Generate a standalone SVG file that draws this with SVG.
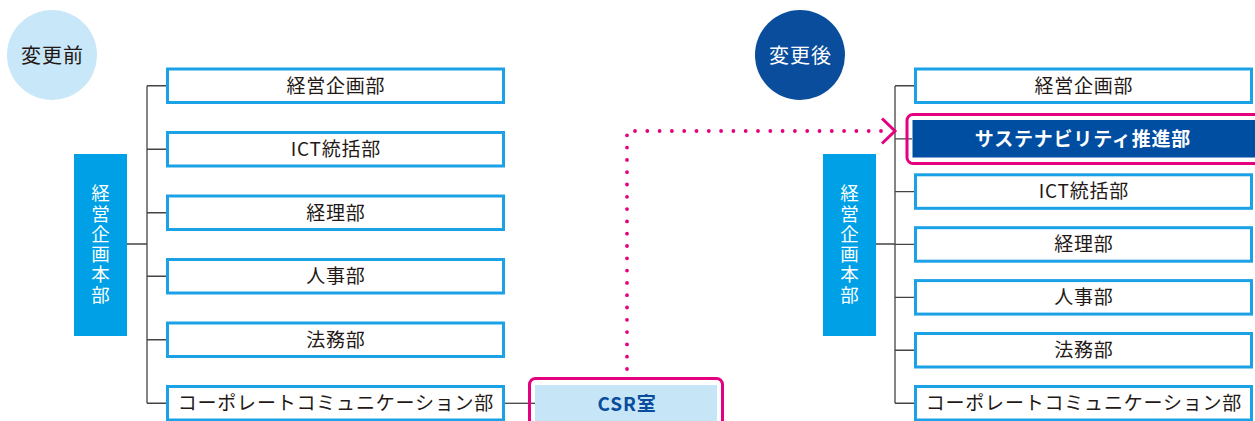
<svg xmlns="http://www.w3.org/2000/svg" width="1255" height="421" viewBox="0 0 1255 421">
<style>
.box{fill:#fff;stroke:#1ba1e6;stroke-width:3}
.lbl{font-family:"Noto Sans CJK JP","Noto Sans",sans-serif;font-size:19px;letter-spacing:0.8px;fill:#231815;text-anchor:middle}
.vt{font-family:"Noto Sans CJK JP","Noto Sans",sans-serif;font-size:18.5px;fill:#fff;writing-mode:vertical-rl;text-orientation:upright;letter-spacing:1.8px}
.ct{font-family:"Noto Sans CJK JP","Noto Sans",sans-serif;font-size:20px;letter-spacing:1px;text-anchor:middle}
.bold{font-weight:bold}
.conn{fill:none;stroke:#444;stroke-width:1.3}
.pink{fill:none;stroke:#e4007f;stroke-width:3}
.hq{fill:#00a0e6}
</style>
<g id="connectors">
  <path class="conn" d="M127,244H147M147,85.75V403.25M147,85.75H166M147,149.25H166M147,212.75H166M147,276.25H166M147,339.75H166M147,403.25H166"/>
  <path class="conn" d="M505,403.3H535"/>
  <path class="conn" d="M876,244H895M895,86V403.25M895,85.75H914M895,138.8H912M895,191.55H914M895,244.45H914M895,297.35H914M895,350.25H914M895,403.25H914"/>
  <path d="M627,369V131H890" fill="none" stroke="#e4007f" stroke-width="3.8" stroke-linecap="round" stroke-dasharray="0 12.3"/>
  <polyline points="882,118.5 895,131 882,143.5" fill="none" stroke="#e4007f" stroke-width="3"/>
</g>
<g id="before-circle">
  <circle cx="52" cy="55" r="45" fill="#c8e7f8"/>
  <text class="ct" x="52.5" y="63" fill="#231815">変更前</text>
</g>
<g id="after-circle">
  <circle cx="800" cy="55" r="45" fill="#0a4d9c"/>
  <text class="ct" x="800.5" y="63" fill="#fff">変更後</text>
</g>
<g id="left-hq">
  <rect class="hq" x="74" y="154" width="53" height="182"/>
  <text class="vt" x="100.5" y="184">経営企画本部</text>
</g>
<g id="left-1"><rect class="box" x="167.5" y="69" width="336" height="33.5"/><text class="lbl" x="335.9" y="92.6">経営企画部</text></g>
<g id="left-2"><rect class="box" x="167.5" y="132.5" width="336" height="33.5"/><text class="lbl" x="335.9" y="156.1">ICT統括部</text></g>
<g id="left-3"><rect class="box" x="167.5" y="196" width="336" height="33.5"/><text class="lbl" x="335.9" y="219.6">経理部</text></g>
<g id="left-4"><rect class="box" x="167.5" y="259.5" width="336" height="33.5"/><text class="lbl" x="335.9" y="283.1">人事部</text></g>
<g id="left-5"><rect class="box" x="167.5" y="323" width="336" height="33.5"/><text class="lbl" x="335.9" y="346.6">法務部</text></g>
<g id="left-6"><rect class="box" x="167.5" y="386.5" width="336" height="33.5"/><text class="lbl" x="335.9" y="410.1">コーポレートコミュニケーション部</text></g>
<g id="csr">
  <rect class="pink" x="529.5" y="378.5" width="193" height="60" rx="6"/>
  <rect x="535" y="385" width="182" height="40" fill="#c6e6f8"/>
  <text class="lbl bold" x="627" y="410.8" style="fill:#0a4d9c">CSR室</text>
</g>
<g id="right-hq">
  <rect class="hq" x="823" y="154" width="53" height="182"/>
  <text class="vt" x="849.5" y="184">経営企画本部</text>
</g>
<g id="right-1"><rect class="box" x="915.5" y="69" width="336" height="33.5"/><text class="lbl" x="1083.9" y="92.6">経営企画部</text></g>
<g id="right-sust">
  <rect class="pink" x="907" y="114.5" width="360" height="49" rx="6"/>
  <rect x="912.5" y="120" width="345" height="37.5" fill="#004ea2"/>
  <text class="lbl bold" x="1082.9" y="145.6" style="fill:#fff">サステナビリティ推進部</text>
</g>
<g id="right-2"><rect class="box" x="915.5" y="174.8" width="336" height="33.5"/><text class="lbl" x="1083.9" y="198.4">ICT統括部</text></g>
<g id="right-3"><rect class="box" x="915.5" y="227.7" width="336" height="33.5"/><text class="lbl" x="1083.9" y="251.3">経理部</text></g>
<g id="right-4"><rect class="box" x="915.5" y="280.6" width="336" height="33.5"/><text class="lbl" x="1083.9" y="304.2">人事部</text></g>
<g id="right-5"><rect class="box" x="915.5" y="333.5" width="336" height="33.5"/><text class="lbl" x="1083.9" y="357.1">法務部</text></g>
<g id="right-6"><rect class="box" x="915.5" y="386.5" width="336" height="33.5"/><text class="lbl" x="1083.9" y="410.1">コーポレートコミュニケーション部</text></g>
</svg>
